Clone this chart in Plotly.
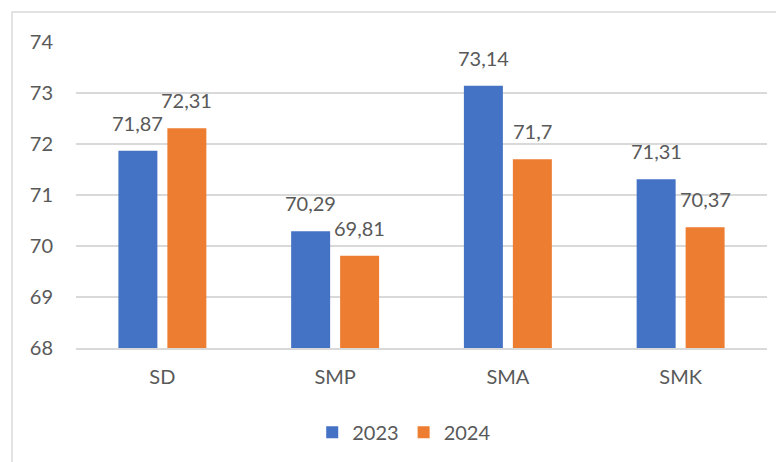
import plotly.graph_objects as go

categories = ["SD", "SMP", "SMA", "SMK"]
series_names = ["2023", "2024"]
values_2023 = [71.87, 70.29, 73.14, 71.31]
values_2024 = [72.31, 69.81, 71.7, 70.37]
y_ticks = [68, 69, 70, 71, 72, 73, 74]

colors = ["#4472C4", "#ED7D31"]
font_family = "Lato, 'Open Sans', sans-serif"
text_color = "#595959"

def fmt(v):
    return f"{v:g}".replace(".", ",")

fig = go.Figure()
annotations = []
for i, (name, vals, col) in enumerate(zip(series_names, [values_2023, values_2024], colors)):
    fig.add_trace(go.Bar(
        x=categories, y=vals, name=name, marker=dict(color=col, line=dict(width=0)),
    ))
    for c, v in zip(categories, vals):
        annotations.append(dict(
            x=c, y=v, xref="x", yref="y", text=fmt(v), showarrow=False,
            xshift=(-24.5 if i == 0 else 24.5), yshift=14, yanchor="bottom",
            font=dict(size=20, color=text_color, family=font_family),
        ))

fig.update_layout(
    width=784, height=462,
    margin=dict(l=68, r=25, t=34, b=122, autoexpand=False),
    paper_bgcolor="white", plot_bgcolor="white",
    barmode="group", bargap=0.433, bargroupgap=0.204,
    font=dict(family=font_family, size=20, color=text_color),
    showlegend=True,
    legend=dict(orientation="h", x=0.475, xanchor="center", y=-0.275, yanchor="middle",
                font=dict(size=20, color=text_color), itemwidth=30, traceorder="normal"),
    xaxis=dict(showline=True, linecolor="#D9D9D9", linewidth=1.5, ticks="", automargin=False,
               tickfont=dict(size=20, color=text_color), ticklabelstandoff=10),
    yaxis=dict(range=[68, 74], tickvals=y_ticks, showgrid=True, gridcolor="#D9D9D9",
               gridwidth=1.5, zeroline=False, ticks="", automargin=False,
               tickfont=dict(size=20, color=text_color), ticklabelstandoff=22),
    annotations=annotations,
    shapes=[dict(type="rect", xref="paper", yref="paper", x0=-0.0926, x1=1.2, y0=-0.6, y1=1.098,
                 line=dict(color="#D9D9D9", width=1.5), fillcolor="rgba(0,0,0,0)", layer="below")],
)

fig.write_html("out.html")
